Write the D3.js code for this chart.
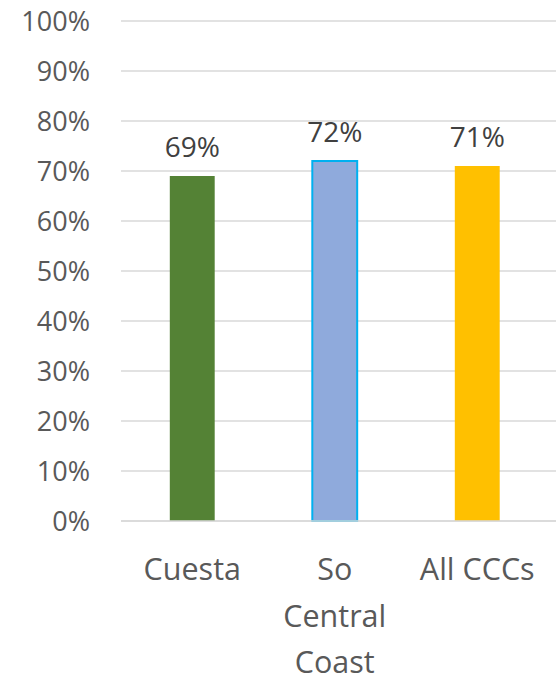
<!DOCTYPE html>
<html><head><meta charset="utf-8">
<script src="https://d3js.org/d3.v7.min.js"></script>
<style>body{margin:0;background:#fff;} text{font-family:"Open Sans",sans-serif;}</style>
</head><body>
<svg id="c" width="557" height="676"></svg>
<script>
const categories = [["Cuesta"], ["So", "Central", "Coast"], ["All CCCs"]];
const categoryKeys = ["Cuesta", "So Central Coast", "All CCCs"];
const values = [0.69, 0.72, 0.71];
const colors = ["#548235", "#8FAADC", "#FFC000"];
const strokes = ["none", "#00B0F0", "none"];
const tickValues = [0, 0.1, 0.2, 0.3, 0.4, 0.5, 0.6, 0.7, 0.8, 0.9, 1.0];

(function () {
const svg = d3.select("#c");
const pl = 121, pr = 556, pt = 21, pb = 521;
const x = d3.scaleBand().domain(categoryKeys).range([pl, 548.5]).paddingInner(0.685).paddingOuter(0.3425);
const y = d3.scaleLinear().domain([0, 1]).range([pb, pt]);

svg.append("g").selectAll("line").data(tickValues).join("line")
  .attr("x1", pl).attr("x2", pr)
  .attr("y1", d => y(d)).attr("y2", d => y(d))
  .attr("stroke", "#d9d9d9").attr("stroke-width", 1.5);

svg.append("g").selectAll("text").data(tickValues).join("text")
  .attr("x", 90).attr("y", d => y(d)).attr("dy", "0.36em")
  .attr("text-anchor", "end").attr("fill", "#595959").attr("font-size", 27)
  .text(d => d3.format(".0%")(d));

svg.append("g").selectAll("rect").data(values).join("rect")
  .attr("x", (d, i) => x(categoryKeys[i]))
  .attr("width", x.bandwidth())
  .attr("y", d => y(d))
  .attr("height", d => y(0) - y(d))
  .attr("fill", (d, i) => colors[i])
  .attr("stroke", (d, i) => strokes[i])
  .attr("stroke-width", 2);

svg.append("line").attr("x1", pl).attr("x2", pr).attr("y1", y(0)).attr("y2", y(0))
  .attr("stroke", "#d9d9d9").attr("stroke-width", 1.5);

svg.append("g").selectAll("text").data(values).join("text")
  .attr("x", (d, i) => x(categoryKeys[i]) + x.bandwidth() / 2)
  .attr("y", d => y(d) - 19)
  .attr("text-anchor", "middle").attr("fill", "#404040").attr("font-size", 28)
  .text(d => d3.format(".0%")(d));

const cg = svg.append("g");
categories.forEach((lines, i) => {
  const cx = x(categoryKeys[i]) + x.bandwidth() / 2;
  const t = cg.append("text")
    .attr("text-anchor", "middle").attr("fill", "#595959").attr("font-size", 30.5);
  lines.forEach((ln, j) => {
    t.append("tspan").attr("x", cx).attr("y", 580 + j * 46.5).text(ln);
  });
});
})();
</script>
</body></html>
